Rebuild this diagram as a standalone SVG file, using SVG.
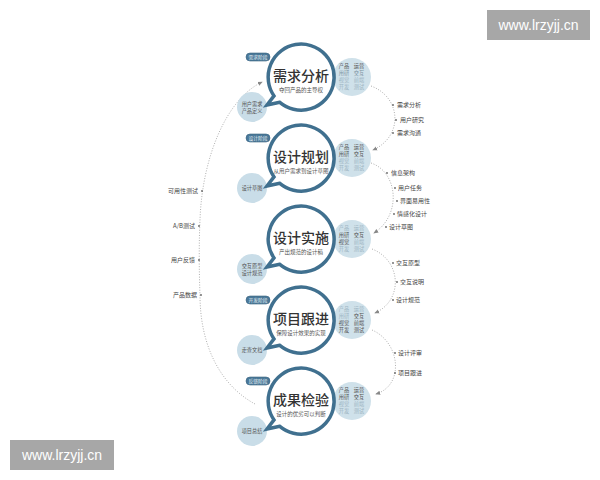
<svg xmlns="http://www.w3.org/2000/svg" width="600" height="480" viewBox="0 0 600 480">
<defs>
<style>
text{font-family:"Noto Sans CJK SC","Liberation Sans",sans-serif;}
.bub{fill:#fff;stroke:#40708f;stroke-width:3.5;}
.rc{fill:#cfe1ea;}
.lc{fill:#c9dde8;}
.tt{font-size:14px;font-weight:500;fill:#333;text-anchor:middle;}
.st{font-size:5.5px;fill:#555;text-anchor:middle;}
.r{font-size:5.2px;text-anchor:middle;}
.d{fill:#555;}
.m{fill:#7f95a3;}
.l{fill:#9db5c3;}
.lt{font-size:5.2px;fill:#555;text-anchor:middle;}
.tag{fill:#4a7898;stroke:#3a6582;stroke-width:0.6;}
.tg{font-size:4.8px;fill:#e8f0f5;text-anchor:middle;}
.arc{fill:none;stroke:#9a9a9a;stroke-width:0.8;stroke-dasharray:1 1.6;}
.dot{fill:#666;}
.lab{font-size:6px;fill:#444;}
.labr{font-size:6px;fill:#444;text-anchor:end;}
.wm{fill:#a7a7a7;}
.wt{font-family:"Liberation Sans",sans-serif;font-size:14px;fill:#fff;text-anchor:middle;}
</style>
<marker id="ah" viewBox="0 0 6 6" refX="5" refY="3" markerWidth="5" markerHeight="5" orient="auto" markerUnits="userSpaceOnUse">
<path d="M0 0.5 L6 3 L0 5.5 Z" fill="#888"/>
</marker>
</defs>
<rect width="600" height="480" fill="#fff"/>

<g id="connectors">
<path class="arc" d="M255 404 C220 385 200 345 200 295 C199 270 199 240 200 220 C202 160 225 100 262 82" marker-end="url(#ah)"/>
<path class="arc" d="M371 86 C401 97 404 136 373 150" marker-end="url(#ah)"/>
<path class="arc" d="M371 163 C398 172 402 215 374 233" marker-end="url(#ah)"/>
<path class="arc" d="M372 249 C401 260 404 300 375 313" marker-end="url(#ah)"/>
<path class="arc" d="M372 330 C400 342 405 385 376 394" marker-end="url(#ah)"/>
</g>

<g id="left-labels">
<circle class="dot" cx="202" cy="191" r="0.9"/><text class="labr" x="198" y="193">可用性测试</text>
<circle class="dot" cx="199" cy="226" r="0.9"/><text class="labr" x="195" y="228">A/B测试</text>
<circle class="dot" cx="199" cy="260" r="0.9"/><text class="labr" x="195" y="262">用户反馈</text>
<circle class="dot" cx="201" cy="295" r="0.9"/><text class="labr" x="197" y="297">产品数据</text>
</g>

<g id="right-labels">
<circle class="dot" cx="393" cy="105" r="0.9"/><text class="lab" x="397" y="107">需求分析</text>
<circle class="dot" cx="396" cy="120" r="0.9"/><text class="lab" x="400" y="122">用户研究</text>
<circle class="dot" cx="393" cy="133" r="0.9"/><text class="lab" x="397" y="135">需求沟通</text>
<circle class="dot" cx="387" cy="173" r="0.9"/><text class="lab" x="391" y="175">信息架构</text>
<circle class="dot" cx="395" cy="188" r="0.9"/><text class="lab" x="398" y="190">用户任务</text>
<circle class="dot" cx="397" cy="201" r="0.9"/><text class="lab" x="400" y="203">界面易用性</text>
<circle class="dot" cx="394" cy="214" r="0.9"/><text class="lab" x="397" y="216">情感化设计</text>
<circle class="dot" cx="386" cy="227" r="0.9"/><text class="lab" x="389" y="229">设计草图</text>
<circle class="dot" cx="393" cy="263" r="0.9"/><text class="lab" x="396" y="265">交互原型</text>
<circle class="dot" cx="397" cy="282" r="0.9"/><text class="lab" x="400" y="284">交互说明</text>
<circle class="dot" cx="393" cy="300" r="0.9"/><text class="lab" x="396" y="302">设计规范</text>
<circle class="dot" cx="395" cy="353" r="0.9"/><text class="lab" x="398" y="355">设计评审</text>
<circle class="dot" cx="395" cy="373" r="0.9"/><text class="lab" x="398" y="375">项目跟进</text>
</g>

<g id="stage1" transform="translate(301,77)">
<g id="stage1-roles"><circle class="rc" cx="51" cy="0" r="19"/>
<text class="r d" x="43" y="-9">产品</text><text class="r d" x="58" y="-9">运营</text>
<text class="r m" x="43" y="-2">用研</text><text class="r m" x="58" y="-2">交互</text>
<text class="r l" x="43" y="5">视觉</text><text class="r l" x="58" y="5">前端</text>
<text class="r l" x="43" y="12">开发</text><text class="r l" x="58" y="12">测试</text></g>
<g id="stage1-output"><circle class="lc" cx="-49" cy="30" r="15"/>
<text class="lt" x="-49" y="29">用户需求</text><text class="lt" x="-49" y="36">产品定义</text></g>
<g id="stage1-main"><path class="bub" d="M-21.2 25.3 L-34 28 L-27 18.9 A33 33 0 1 1 -21.2 25.3 Z"/>
<text class="tt" x="0" y="4">需求分析</text><text class="st" x="0" y="14.5">夺回产品的主导权</text></g>
<g id="stage1-tag"><rect class="tag" x="-55" y="-24" width="24" height="8" rx="4"/><text class="tg" x="-43" y="-18.3">需求阶段</text></g>
</g>

<g id="stage2" transform="translate(301,158)">
<g id="stage2-roles"><circle class="rc" cx="51" cy="0" r="19"/>
<text class="r d" x="43" y="-9">产品</text><text class="r d" x="58" y="-9">运营</text>
<text class="r d" x="43" y="-2">用研</text><text class="r d" x="58" y="-2">交互</text>
<text class="r l" x="43" y="5">视觉</text><text class="r l" x="58" y="5">前端</text>
<text class="r l" x="43" y="12">开发</text><text class="r l" x="58" y="12">测试</text></g>
<g id="stage2-output"><circle class="lc" cx="-49" cy="30" r="15"/>
<text class="lt" x="-49" y="32">设计草图</text></g>
<g id="stage2-main"><path class="bub" d="M-21.2 25.3 L-34 28 L-27 18.9 A33 33 0 1 1 -21.2 25.3 Z"/>
<text class="tt" x="0" y="4">设计规划</text><text class="st" x="0" y="14.5">从用户需求到设计草图</text></g>
<g id="stage2-tag"><rect class="tag" x="-55" y="-24" width="24" height="8" rx="4"/><text class="tg" x="-43" y="-18.3">设计阶段</text></g>
</g>

<g id="stage3" transform="translate(301,239)">
<g id="stage3-roles"><circle class="rc" cx="51" cy="0" r="19"/>
<text class="r l" x="43" y="-9">产品</text><text class="r l" x="58" y="-9">运营</text>
<text class="r d" x="43" y="-2">用研</text><text class="r d" x="58" y="-2">交互</text>
<text class="r d" x="43" y="5">视觉</text><text class="r l" x="58" y="5">前端</text>
<text class="r l" x="43" y="12">开发</text><text class="r l" x="58" y="12">测试</text></g>
<g id="stage3-output"><circle class="lc" cx="-49" cy="30" r="15"/>
<text class="lt" x="-49" y="29">交互原型</text><text class="lt" x="-49" y="36">设计规范</text></g>
<g id="stage3-main"><path class="bub" d="M-21.2 25.3 L-34 28 L-27 18.9 A33 33 0 1 1 -21.2 25.3 Z"/>
<text class="tt" x="0" y="4">设计实施</text><text class="st" x="0" y="14.5">产出规范的设计稿</text></g>
</g>

<g id="stage4" transform="translate(301,320)">
<g id="stage4-roles"><circle class="rc" cx="51" cy="0" r="19"/>
<text class="r l" x="43" y="-9">产品</text><text class="r l" x="58" y="-9">运营</text>
<text class="r l" x="43" y="-2">用研</text><text class="r d" x="58" y="-2">交互</text>
<text class="r d" x="43" y="5">视觉</text><text class="r d" x="58" y="5">前端</text>
<text class="r d" x="43" y="12">开发</text><text class="r d" x="58" y="12">测试</text></g>
<g id="stage4-output"><circle class="lc" cx="-49" cy="30" r="15"/>
<text class="lt" x="-49" y="32">走查文档</text></g>
<g id="stage4-main"><path class="bub" d="M-21.2 25.3 L-34 28 L-27 18.9 A33 33 0 1 1 -21.2 25.3 Z"/>
<text class="tt" x="0" y="4">项目跟进</text><text class="st" x="0" y="14.5">保障设计效果的实现</text></g>
<g id="stage4-tag"><rect class="tag" x="-55" y="-24" width="24" height="8" rx="4"/><text class="tg" x="-43" y="-18.3">开发阶段</text></g>
</g>

<g id="stage5" transform="translate(301,401)">
<g id="stage5-roles"><circle class="rc" cx="51" cy="0" r="19"/>
<text class="r d" x="43" y="-9">产品</text><text class="r d" x="58" y="-9">运营</text>
<text class="r d" x="43" y="-2">用研</text><text class="r d" x="58" y="-2">交互</text>
<text class="r l" x="43" y="5">视觉</text><text class="r l" x="58" y="5">前端</text>
<text class="r l" x="43" y="12">开发</text><text class="r l" x="58" y="12">测试</text></g>
<g id="stage5-output"><circle class="lc" cx="-49" cy="30" r="15"/>
<text class="lt" x="-49" y="32">项目总结</text></g>
<g id="stage5-main"><path class="bub" d="M-21.2 25.3 L-34 28 L-27 18.9 A33 33 0 1 1 -21.2 25.3 Z"/>
<text class="tt" x="0" y="4">成果检验</text><text class="st" x="0" y="14.5">设计的优劣可以判断</text></g>
<g id="stage5-tag"><rect class="tag" x="-55" y="-24" width="24" height="8" rx="4"/><text class="tg" x="-43" y="-18.3">反馈阶段</text></g>
</g>

<g id="watermark-top"><rect class="wm" x="487" y="10" width="103" height="30"/><text class="wt" x="538.5" y="30">www.lrzyjj.cn</text></g>
<g id="watermark-bottom"><rect class="wm" x="10" y="440" width="104" height="30"/><text class="wt" x="62" y="460">www.lrzyjj.cn</text></g>
</svg>
